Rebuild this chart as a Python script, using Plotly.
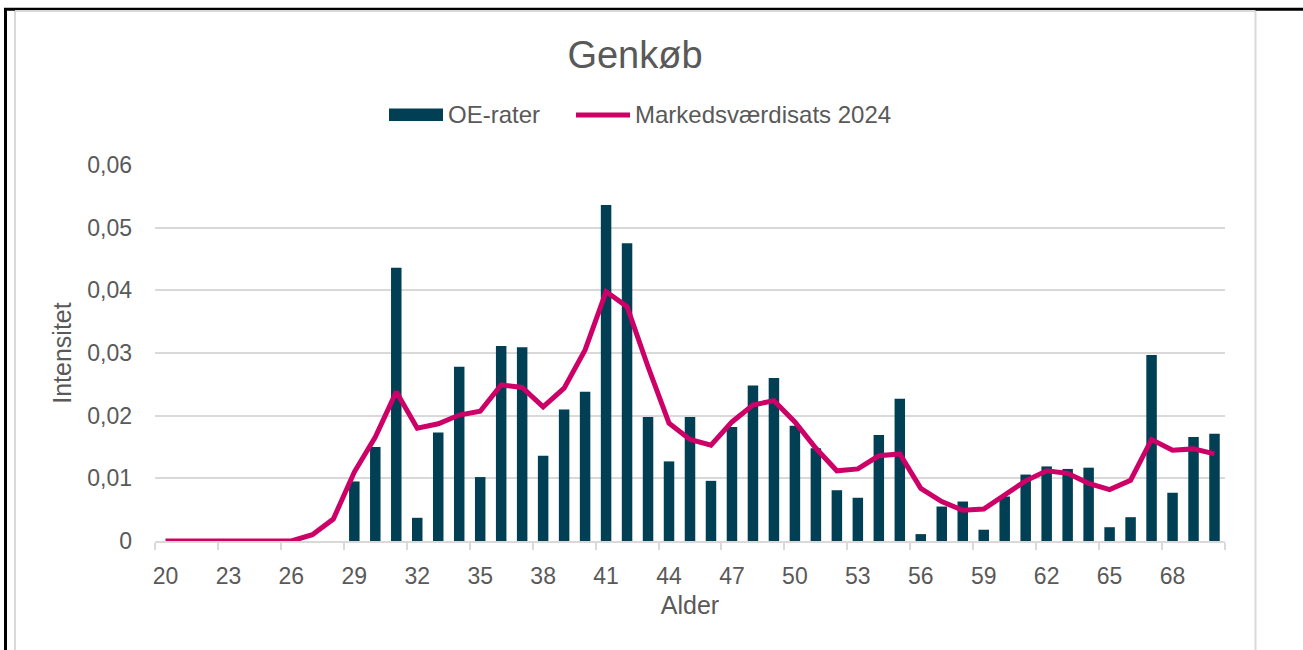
import plotly.graph_objects as go

# ---- data ----
ages = list(range(20, 71))
oe_rater = [0, 0, 0, 0, 0, 0, 0, 0, 0,
            0.0095, 0.0150, 0.0436, 0.0037, 0.0173, 0.0278, 0.0102, 0.0311, 0.0309, 0.0136,
            0.0210, 0.0238, 0.0536, 0.0475, 0.0198, 0.0127, 0.0198, 0.0096, 0.0182, 0.0248,
            0.0260, 0.0184, 0.0148, 0.0081, 0.0069, 0.0169, 0.0227, 0.0011, 0.0055, 0.0063,
            0.0018, 0.0071, 0.0106, 0.0119, 0.0115, 0.0117, 0.0022, 0.0038, 0.0297, 0.0077,
            0.0166, 0.0171]
markedsvaerdisats = [0, 0, 0, 0, 0, 0, 0, 0.0010, 0.0035,
                     0.0110, 0.0166, 0.0238, 0.0180, 0.0187, 0.0201, 0.0207, 0.0249, 0.0245, 0.0214,
                     0.0244, 0.0305, 0.0398, 0.0374, 0.0278, 0.0188, 0.0162, 0.0153, 0.0190, 0.0217,
                     0.0224, 0.0190, 0.0148, 0.0112, 0.0115, 0.0136, 0.0139, 0.0084, 0.0063, 0.0049,
                     0.0051, 0.0073, 0.0096, 0.0112, 0.0108, 0.0092, 0.0082, 0.0097, 0.0162, 0.0145,
                     0.0147, 0.0139]
x_tickvals = list(range(20, 70, 3))
y_tickvals = [0, 0.01, 0.02, 0.03, 0.04, 0.05, 0.06]
y_ticktext = ["0", "0,01", "0,02", "0,03", "0,04", "0,05", "0,06"]

title_text = "Genkøb"
series_names = ["OE-rater", "Markedsværdisats 2024"]

# ---- style ----
W, H = 1303, 650
ML, MR, MT, MB = 155, 78, 165, 109
PW, PH = W - ML - MR, H - MT - MB
TXT = "#595959"
GRID = "#d9d9d9"
BAR = "#003f54"
LINE = "#cc0066"
FONT = "Liberation Sans, Arial, sans-serif"


def px2x(px):
    return (px - ML) / PW


def py2y(py):
    return (H - MB - py) / PH


fig = go.Figure()
fig.add_trace(go.Bar(x=ages, y=oe_rater, name=series_names[0], marker_color=BAR,
                     width=0.5, marker_line_width=0, showlegend=False))
fig.add_trace(go.Scatter(x=ages, y=markedsvaerdisats, name=series_names[1], mode="lines",
                         line=dict(color=LINE, width=5), showlegend=False))

shapes = [
    # outer black frame (top and left)
    dict(type="line", xref="paper", yref="paper", x0=px2x(4), x1=px2x(1303), y0=py2y(9.3), y1=py2y(9.3),
         line=dict(color="black", width=3)),
    dict(type="line", xref="paper", yref="paper", x0=px2x(5.5), x1=px2x(5.5), y0=py2y(8), y1=py2y(650),
         line=dict(color="black", width=3)),
    # light gray chart-area frame
    dict(type="line", xref="paper", yref="paper", x0=px2x(15), x1=px2x(1255.5), y0=py2y(11), y1=py2y(11),
         line=dict(color=GRID, width=2)),
    dict(type="line", xref="paper", yref="paper", x0=px2x(15), x1=px2x(15), y0=py2y(11), y1=py2y(650),
         line=dict(color=GRID, width=2)),
    dict(type="line", xref="paper", yref="paper", x0=px2x(1255.5), x1=px2x(1255.5), y0=py2y(11), y1=py2y(650),
         line=dict(color=GRID, width=2)),
    # legend symbols
    dict(type="rect", xref="paper", yref="paper", x0=px2x(389), x1=px2x(443), y0=py2y(108.5), y1=py2y(121),
         fillcolor=BAR, line=dict(width=0)),
    dict(type="line", xref="paper", yref="paper", x0=px2x(576), x1=px2x(630), y0=py2y(115), y1=py2y(115),
         line=dict(color=LINE, width=5)),
]

annotations = [
    dict(text=series_names[0], xref="paper", yref="paper", x=px2x(446), y=py2y(115),
         xanchor="left", yanchor="middle", showarrow=False, font=dict(size=24, color=TXT)),
    dict(text=series_names[1], xref="paper", yref="paper", x=px2x(633), y=py2y(115),
         xanchor="left", yanchor="middle", showarrow=False, font=dict(size=24, color=TXT)),
]

fig.update_layout(
    width=W, height=H,
    margin=dict(l=ML, r=MR, t=MT, b=MB),
    paper_bgcolor="white", plot_bgcolor="white",
    font=dict(family=FONT, color=TXT, size=23),
    title=dict(text=title_text, x=635 / W, xref="container", xanchor="center",
               y=1 - 55 / H, yref="container", yanchor="middle",
               font=dict(size=38, color=TXT, family=FONT)),
    bargap=0.5,
    shapes=shapes,
    annotations=annotations,
    showlegend=False,
)
fig.update_xaxes(range=[19.5, 70.5], tickmode="array", tickvals=x_tickvals,
                 ticks="", showgrid=False, zeroline=False,
                 showline=True, linecolor=GRID, linewidth=1.5,
                 ticklabelstandoff=14,
                 minor=dict(tick0=19.5, dtick=3, ticks="outside", ticklen=7, tickcolor=GRID,
                            tickwidth=1.5, showgrid=False),
                 title=dict(text="Alder", font=dict(size=25, color=TXT), standoff=8),
                 tickfont=dict(size=23, color=TXT))
fig.update_yaxes(range=[0, 0.06], tickmode="array", tickvals=y_tickvals, ticktext=y_ticktext,
                 showgrid=True, gridcolor=GRID, gridwidth=1.5, zeroline=False, showline=False,
                 ticks="", ticklabelstandoff=22,
                 title=dict(text="Intensitet", font=dict(size=25, color=TXT), standoff=8),
                 tickfont=dict(size=23, color=TXT))

fig.write_html("out.html", config={"displayModeBar": False},
               post_script="document.body.style.margin='0';document.body.style.overflow='hidden';")
